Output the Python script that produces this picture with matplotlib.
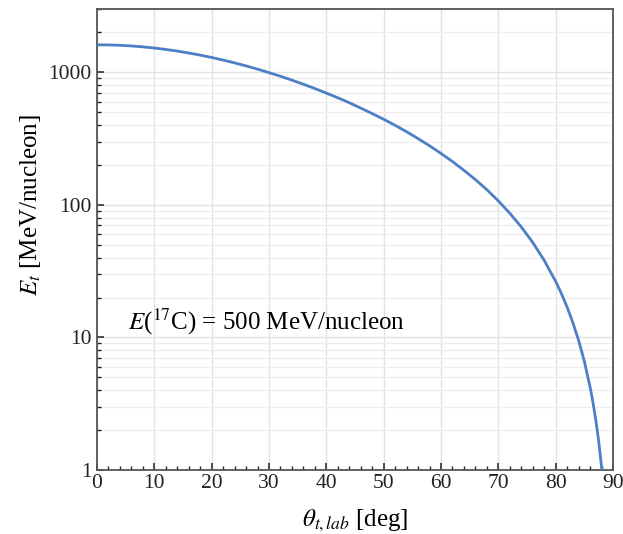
import matplotlib
matplotlib.use("Agg")
import matplotlib.pyplot as plt
from matplotlib.ticker import MultipleLocator, LogLocator, NullFormatter, FixedFormatter, FixedLocator

plt.rcParams['font.family'] = ['Liberation Serif', 'DejaVu Serif']
plt.rcParams['mathtext.fontset'] = 'stix'

## recoil energy
theta = [0, 2, 4, 6, 8, 10, 12, 14, 16, 18, 20, 22, 24, 26, 28, 30,
         32, 34, 36, 38, 40, 42, 44, 46, 48, 50, 52, 54, 56, 58, 60,
         62, 64, 66, 68, 70, 72, 74, 76, 78, 80, 81, 82, 83, 84, 85,
         86, 86.5, 87, 87.5, 88, 88.1]
energy = [1612, 1608, 1598, 1580, 1555, 1524, 1487, 1445, 1398, 1347, 1293,
          1236, 1177, 1117, 1056, 994, 933, 872, 812, 754, 697, 642, 589,
          537, 488, 442, 398, 356, 316, 279, 244, 212, 182, 155, 130, 107,
          86.4, 68.1, 52.0, 38.1, 26.4, 21.4, 16.9, 12.9, 9.49, 6.59, 4.22,
          3.23, 2.37, 1.65, 1.05, 0.95]

x_ticks = [0, 10, 20, 30, 40, 50, 60, 70, 80, 90]
y_ticks = [1, 10, 100, 1000]
y_labels = ["1", "10", "100", "1000"]

fig = plt.figure(figsize=(6.23, 5.34), dpi=100)
ax = fig.add_axes([0.1557, 0.1199, 0.8283, 0.8632])

ax.plot(theta, energy, color='#4d7fc7', lw=2.0, zorder=3)

ax.set_yscale('log')
ax.set_xlim(0, 90)
ax.set_ylim(1, 3000)

ax.xaxis.set_major_locator(FixedLocator(x_ticks))
ax.xaxis.set_minor_locator(MultipleLocator(2))
ax.yaxis.set_major_locator(FixedLocator(y_ticks))
ax.yaxis.set_major_formatter(FixedFormatter(y_labels))
ax.yaxis.set_minor_locator(LogLocator(base=10, subs=range(2, 10)))
ax.yaxis.set_minor_formatter(NullFormatter())

ax.tick_params(which='both', direction='in', top=False, right=False,
               labelsize=15.5, colors='#222222')
ax.tick_params(axis='x', pad=3)
ax.tick_params(axis='y', pad=4)
ax.tick_params(which='major', length=5, width=1.1)
ax.tick_params(which='minor', length=3, width=1.0)

ax.grid(which='major', color='#e2e2e2', lw=1.0, zorder=0)
ax.grid(which='minor', axis='y', color='#ededed', lw=0.9, zorder=0)

for s in ax.spines.values():
    s.set_color('#555555')
    s.set_linewidth(1.3)

ax.set_xlabel(r"$\theta_{t,lab}$ [deg]", fontsize=18)
ax.set_ylabel(r"$E_t$ [MeV/nucleon]", fontsize=18)
ax.xaxis.set_label_coords(0.5, -0.082)
ax.yaxis.set_label_coords(-0.105, 0.575)

ax.text(5.4, 13.1, r"$E$($^{17}$C) = 500 MeV/nucleon", fontsize=18,
        ha='left', va='center')

plt.savefig("out.png", dpi=100)
